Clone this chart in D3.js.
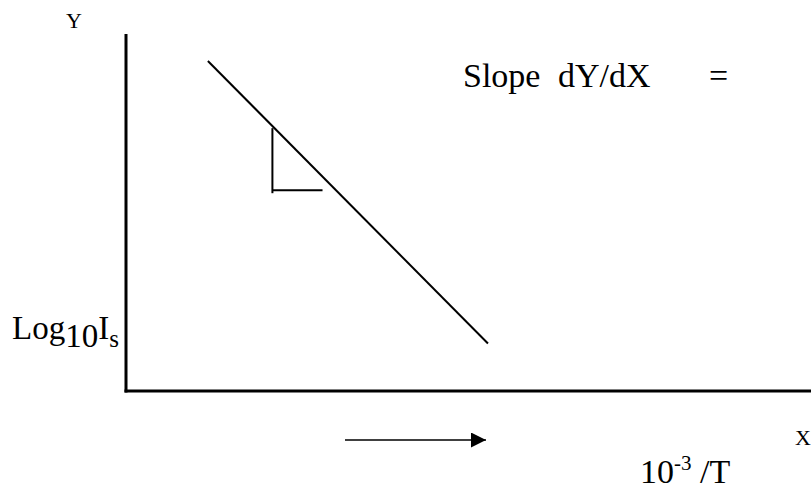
<!DOCTYPE html>
<html>
<head>
<meta charset="utf-8">
<script src="https://cdn.jsdelivr.net/npm/d3@7"></script>
<style>
  html, body { margin: 0; padding: 0; background: #fff; }
  svg text { font-family: "Liberation Serif", "Times New Roman", serif; fill: #000; }
</style>
</head>
<body>
<div id="chart"></div>
<script>
// Schematic: log10 Is against 10^-3/T (arbitrary units 0..10 on both axes)
const fitLine = [
  { x: 1.2, y: 9.27 },
  { x: 5.28, y: 1.32 }
];
// slope triangle under the line
const slopeTriangle = [
  { x: 2.14, y: 7.38 },
  { x: 2.14, y: 5.55 }
];
const slopeBase = [
  { x: 2.14, y: 5.63 },
  { x: 2.87, y: 5.63 }
];
const xDomain = [0, 10];
const yDomain = [0, 10];

function renderChart(containerId) {
  const width = 811, height = 489;
  const container = d3.select(`#${containerId}`);
  container.selectAll("*").remove();

  const svg = container.append("svg")
    .attr("width", width)
    .attr("height", height);

  const x = d3.scaleLinear().domain(xDomain).range([125.5, 812]);
  const y = d3.scaleLinear().domain(yDomain).range([390.5, 35]);

  // axes, no ticks
  svg.append("g")
    .attr("transform", `translate(${x(0)},0)`)
    .call(d3.axisLeft(y).ticks(0).tickSizeOuter(0));
  svg.append("g")
    .attr("transform", `translate(0,${y(0)})`)
    .call(d3.axisBottom(x).ticks(0).tickSizeOuter(0));
  svg.selectAll(".domain")
    .attr("stroke", "#000")
    .attr("stroke-width", 3)
    .attr("stroke-linecap", "square");

  const line = d3.line().x(d => x(d.x)).y(d => y(d.y));

  [fitLine, slopeTriangle, slopeBase].forEach(seg => {
    svg.append("path")
      .datum(seg)
      .attr("d", line)
      .attr("fill", "none")
      .attr("stroke", "#000")
      .attr("stroke-width", 2);
  });

  // axis letters
  svg.append("text")
    .attr("x", 74).attr("y", 28)
    .attr("text-anchor", "middle")
    .style("font-size", "22px")
    .text("Y");

  svg.append("text")
    .attr("x", 795).attr("y", 445)
    .style("font-size", "22px")
    .text("X");

  // slope note
  svg.append("text")
    .attr("x", 463).attr("y", 87)
    .style("font-size", "34px")
    .text("Slope");
  svg.append("text")
    .attr("x", 558).attr("y", 87)
    .style("font-size", "34px")
    .text("dY/dX");
  svg.append("text")
    .attr("x", 709).attr("y", 87)
    .style("font-size", "34px")
    .text("=");

  // y label: Log10 Is
  const ylab = svg.append("text")
    .attr("x", 12).attr("y", 339)
    .style("font-size", "33px");
  ylab.append("tspan").text("Log");
  ylab.append("tspan").attr("dy", 8).text("10");
  ylab.append("tspan").attr("dy", -8).text("I");
  ylab.append("tspan").attr("dy", 8).style("font-size", "25px").text("s");

  // x label: 10^-3 /T
  const xlab = svg.append("text")
    .attr("x", 640).attr("y", 483)
    .style("font-size", "34px");
  xlab.append("tspan").text("10");
  xlab.append("tspan").attr("dy", -13).style("font-size", "21px").text("-3");
  xlab.append("tspan").attr("dy", 13).text(" /T");

  // direction arrow
  svg.append("defs").append("marker")
    .attr("id", "head")
    .attr("viewBox", "0 0 10 10")
    .attr("refX", 10).attr("refY", 5)
    .attr("markerUnits", "userSpaceOnUse")
    .attr("markerWidth", 18).attr("markerHeight", 15)
    .attr("orient", "auto")
    .append("path")
    .attr("d", "M0,0 L10,5 L0,10 Z")
    .attr("fill", "#000");

  svg.append("line")
    .attr("x1", 345).attr("y1", 440)
    .attr("x2", 486).attr("y2", 440)
    .attr("stroke", "#000")
    .attr("stroke-width", 1.6)
    .attr("marker-end", "url(#head)");
}

document.addEventListener("DOMContentLoaded", () => renderChart("chart"));
</script>
</body>
</html>
